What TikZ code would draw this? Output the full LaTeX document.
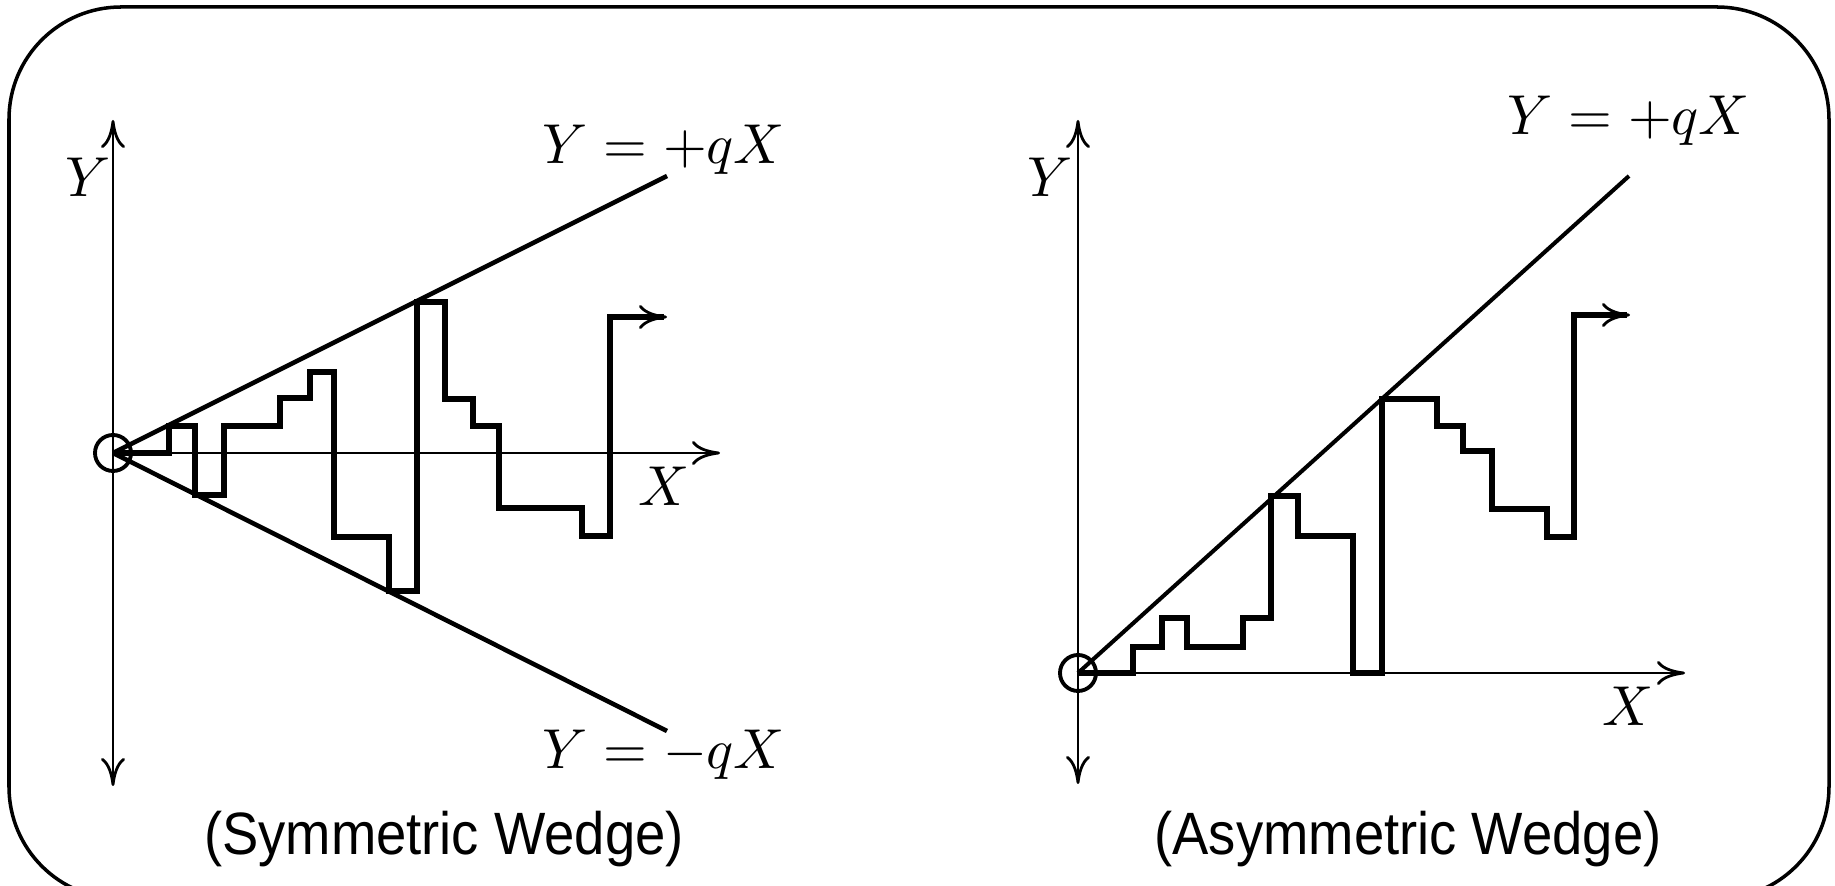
\documentclass[tikz,border=0pt]{standalone}
\usepackage{fontspec}
\setsansfont{Liberation Sans}
\usepackage{graphicx}
\usepackage{tikz}
\usetikzlibrary{arrows.meta}
\newcommand{\mlab}[1]{\scalebox{1.6}{$#1$}}
\tikzset{
    tip/.style={-{To[length=2.8mm,width=2.4mm,line width=0.8pt]}},
    dtip/.style={{To[length=2.8mm,width=2.4mm,line width=0.8pt]}-{To[length=2.8mm,width=2.4mm,line width=0.8pt]}},
}

\begin{document}
\begin{tikzpicture}[x=0.01cm, y=-0.01cm, axis/.style={line width=0.75pt}, wedge/.style={line width=1.3pt}, walk/.style={line width=1.5pt}, origin/.style={line width=1.1pt}, lab/.style={inner sep=0pt, anchor=base}, subtitle/.style={inner sep=0pt, anchor=base} ]
\useasboundingbox (0,0) rectangle (1835,886);
\clip (0,0) rectangle (1835,886);
% Frame
                \draw[line width=1pt, rounded corners=1.12cm] (9,7) rectangle (1829,899);
% --- Symmetric wedge (left) ---
                \coordinate (O1) at (113,453);
                \coordinate (Y1top) at (113,120);
                \coordinate (Y1bot) at (113,786);
                \coordinate (X1end) at (720,453);
                \coordinate (U1) at (667,176);
                \coordinate (L1) at (667,731);
% Axes
                \draw[axis, dtip] (Y1bot) -- (Y1top);
                \draw[axis, tip] (O1) -- (X1end);
                \node[lab] (y1) at (88,197) {\mlab{Y}};
                \node[lab] (x1) at (664,506) {\mlab{X}};
% Wedge lines
                \draw[wedge] (O1) -- (U1);
                \draw[wedge] (O1) -- (L1);
                \node[lab] (up1) at (664,164) {\mlab{Y=+qX}};
                \node[lab] (lo1) at (664,769) {\mlab{Y=-qX}};
% Path
                \draw[walk, tip] (O1) -- (169,453) -- (169,426) -- (195,426) -- (195,495) -- (224,495) -- (224,426) -- (280,426) -- (280,398) -- (310,398) -- (310,372) -- (334,372) -- (334,537) -- (389,537) -- (389,591) -- (417,591) -- (417,302) -- (445,302) -- (445,399) -- (473,399) -- (473,426) -- (499,426) -- (499,508) -- (582,508) -- (582,536) -- (610,536) -- (610,317) -- (667,317);
                \draw[origin] (O1) circle (18);
                \node[subtitle] (cap1) at (444,855) {\scalebox{0.91}[1]{\sffamily\fontsize{17}{20}\selectfont (Symmetric Wedge)}};
% --- Asymmetric wedge (right) ---
                \coordinate (O2) at (1078,673);
                \coordinate (Y2top) at (1078,120);
                \coordinate (Y2bot) at (1078,784);
                \coordinate (X2end) at (1685,673);
                \coordinate (U2) at (1629,176);
% Axes
                \draw[axis, dtip] (Y2bot) -- (Y2top);
                \draw[axis, tip] (O2) -- (X2end);
                \node[lab] (y2) at (1050,197) {\mlab{Y}};
                \node[lab] (x2) at (1628,726) {\mlab{X}};
% Wedge line
                \draw[wedge, line width=1.15pt] (O2) -- (U2);
                \node[lab] (up2) at (1629,135) {\mlab{Y=+qX}};
% Path
                \draw[walk, tip] (O2) -- (1133,673) -- (1133,647) -- (1162,647) -- (1162,618) -- (1187,618) -- (1187,647) -- (1243,647) -- (1243,618) -- (1271,618) -- (1271,496) -- (1298,496) -- (1298,536) -- (1353,536) -- (1353,673) -- (1382,673) -- (1382,399) -- (1437,399) -- (1437,426) -- (1463,426) -- (1463,451) -- (1492,451) -- (1492,509) -- (1547,509) -- (1547,537) -- (1574,537) -- (1574,315) -- (1630,315);
                \draw[origin] (O2) circle (18);
                \node[subtitle] (cap2) at (1408,855) {\scalebox{0.91}[1]{\sffamily\fontsize{17}{20}\selectfont (Asymmetric Wedge)}};
            \end{tikzpicture}
\end{document}
